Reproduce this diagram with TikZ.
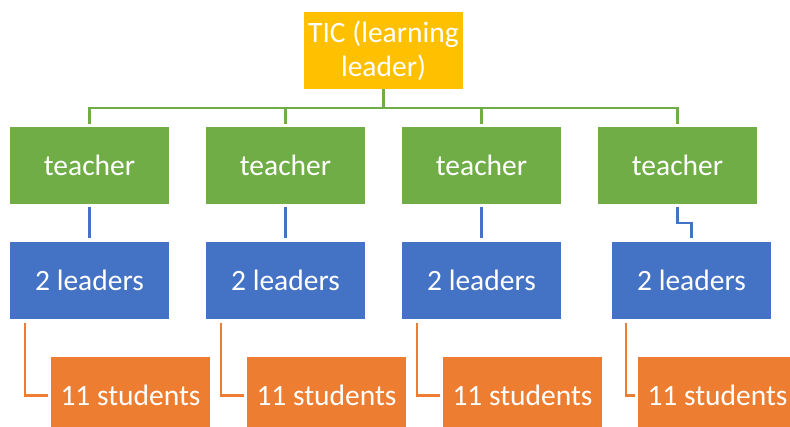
\documentclass[tikz,border=0pt]{standalone}
\usepackage{fontspec}
\setmainfont{Carlito}
\usepackage{xcolor}
\usepackage{tikz}

\definecolor{ticgold}{HTML}{FFC000}
\definecolor{teachgreen}{HTML}{70AD47}
\definecolor{leadblue}{HTML}{4472C4}
\definecolor{studorange}{HTML}{ED7D31}

\tikzset{
  box/.style={minimum width=159pt, minimum height=77pt, inner sep=0pt,
    text=white, font=\fontsize{29.5}{34}\selectfont, align=center},
  link/.style={line width=2.5pt}
}

\begin{document}
\begin{tikzpicture}[x=1pt,y=-1pt]
			\useasboundingbox (0,0) rectangle (790,427);
			\clip (0,0) rectangle (790,427);
			\node[box,fill=ticgold] (tic) at (383.5,50.5) {TIC (learning\\leader)};
			\node[box,fill=teachgreen] (t1) at (89.5,165.5) {teacher};
			\node[box,fill=teachgreen] (t2) at (285.5,165.5) {teacher};
			\node[box,fill=teachgreen] (t3) at (481.5,165.5) {teacher};
			\node[box,fill=teachgreen] (t4) at (677.5,165.5) {teacher};
			\node[box,fill=leadblue] (l1) at (89.5,280.5) {2 leaders};
			\node[box,fill=leadblue] (l2) at (285.5,280.5) {2 leaders};
			\node[box,fill=leadblue] (l3) at (481.5,280.5) {2 leaders};
			\node[box,fill=leadblue] (l4) at (691.5,280.5) {2 leaders};
			\node[box,fill=studorange] (s1) at (130.5,395.5) {11 students};
			\node[box,fill=studorange] (s2) at (326.5,395.5) {11 students};
			\node[box,fill=studorange] (s3) at (522.5,395.5) {11 students};
			\node[box,fill=studorange] (s4) at (717.5,395.5) {11 students};
			\coordinate (bus) at (383.5,108);
			\draw[link,teachgreen] (tic.south) -- (bus);
			\draw[link,teachgreen,shorten >=3pt] (bus) -| (t1.north);
			\draw[link,teachgreen,shorten >=3pt] (bus) -| (t2.north);
			\draw[link,teachgreen,shorten >=3pt] (bus) -| (t3.north);
			\draw[link,teachgreen,shorten >=3pt] (bus) -| (t4.north);
			\draw[link,leadblue,shorten <=3pt,shorten >=4pt] (t1.south) -- (l1.north);
			\draw[link,leadblue,shorten <=3pt,shorten >=4pt] (t2.south) -- (l2.north);
			\draw[link,leadblue,shorten <=3pt,shorten >=4pt] (t3.south) -- (l3.north);
			\draw[link,leadblue,shorten <=3pt,shorten >=4pt] (t4.south) |- (684.5,223) -| (l4.north);
			\draw[link,studorange,shorten >=3pt] ([xshift=15pt,yshift=-4pt]l1.south west) |- (s1.west);
			\draw[link,studorange,shorten >=3pt] ([xshift=15pt,yshift=-4pt]l2.south west) |- (s2.west);
			\draw[link,studorange,shorten >=3pt] ([xshift=15pt,yshift=-4pt]l3.south west) |- (s3.west);
			\draw[link,studorange,shorten >=3pt] ([xshift=14pt,yshift=-4pt]l4.south west) |- (s4.west);
		\end{tikzpicture}
\end{document}
